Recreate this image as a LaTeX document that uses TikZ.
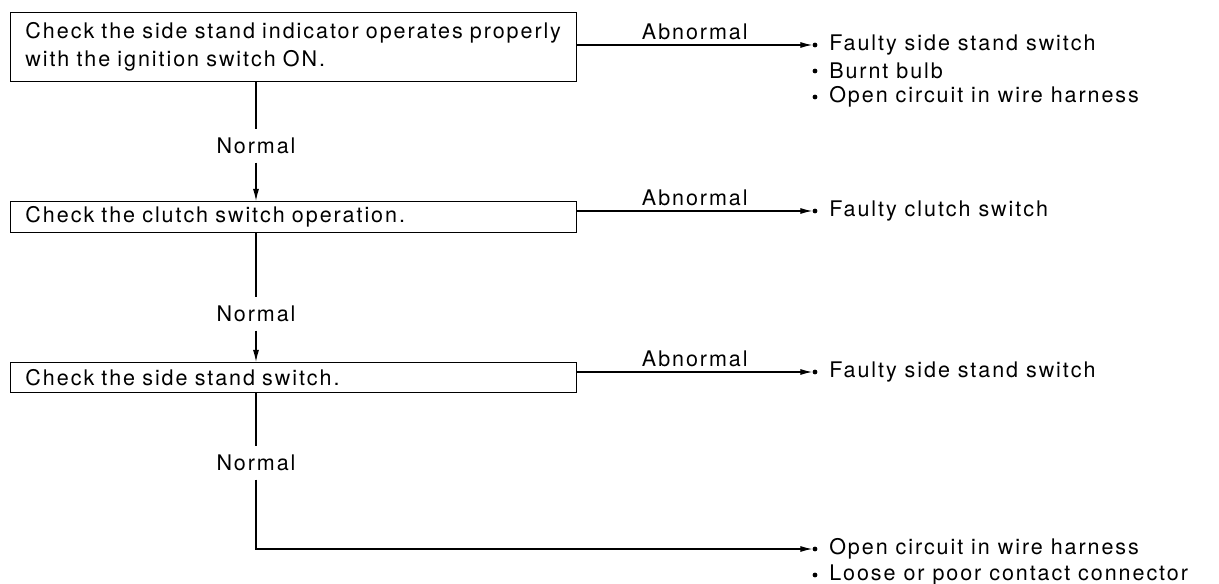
\documentclass[tikz,border=0pt]{standalone}
\usepackage{fontspec}
\newfontfamily\manualfont{TeX Gyre Heros}[LetterSpace=9]
\usepackage{tikz}
\usetikzlibrary{arrows.meta,positioning,calc}

\begin{document}
\begin{tikzpicture}[
    x=0.025cm, y=-0.025cm,
    stepbox/.style={draw, line width=0.7pt, anchor=north west, align=left,
                    text width=13.4cm, inner xsep=0.375cm, inner ysep=0pt,
                    font=\manualfont\fontsize{15.3}{19.5}\selectfont},
    lbl/.style={font=\manualfont\fontsize{15.3}{17}\selectfont, inner sep=2pt},
    cause/.style={anchor=west, inner sep=0pt,
                  font=\manualfont\fontsize{15.3}{17}\selectfont},
    bul/.style={circle, fill, inner sep=1.2pt},
    arr/.style={-{Latex[length=3mm,width=1.5mm]}, line width=0.8pt},
    lin/.style={line width=0.8pt}
]
    \useasboundingbox (0,0) rectangle (1219,584);

    % check steps
    \node[stepbox, minimum height=1.725cm] (box1) at (10,12)
        {Check the side stand indicator operates properly\\with the ignition switch ON.};
    \node[stepbox, minimum height=0.775cm] (box2) at (10,201) {Check the clutch switch operation.};
    \node[stepbox, minimum height=0.75cm]  (box3) at (10,362) {Check the side stand switch.};

    % Normal labels
    \node[lbl, inner ysep=6pt] (n1) at (256,146) {Normal};
    \node[lbl, inner ysep=6pt] (n2) at (256,314) {Normal};
    \node[lbl, inner ysep=6pt] (n3) at (256,463) {Normal};

    % bullets and causes
    \node[bul] (b1a) at (815,45) {};
    \node[bul] (b1b) at (815,71) {};
    \node[bul] (b1c) at (815,97) {};
    \node[bul] (b2a) at (815,211) {};
    \node[bul] (b3a) at (815,372) {};
    \node[bul] (b4a) at (815,549) {};
    \node[bul] (b4b) at (815,575) {};

    \node[cause] (c1a) at (829,45)  {Faulty side stand switch};
    \node[cause] (c1b) at (829,71)  {Burnt bulb};
    \node[cause] (c1c) at (829,97)  {Open circuit in wire harness};
    \node[cause] (c2a) at (829,211) {Faulty clutch switch};
    \node[cause] (c3a) at (829,372) {Faulty side stand switch};
    \node[cause] (c4a) at (829,549) {Open circuit in wire harness};
    \node[cause] (c4b) at (829,575) {Loose or poor contact connector};

    % Abnormal branches
    \draw[arr] (box1.east |- b1a) -- node[lbl, above=1pt] {Abnormal} (b1a);
    \draw[arr] (box2.east |- b2a) -- node[lbl, above=1pt] {Abnormal} (b2a);
    \draw[arr] (box3.east |- b3a) -- node[lbl, above=1pt] {Abnormal} (b3a);

    % Normal branches
    \draw[lin] (box1.south -| n1) -- (n1.north);
    \draw[arr] (n1.south) -- (box2.north -| n1);
    \draw[lin] (box2.south -| n2) -- (n2.north);
    \draw[arr] (n2.south) -- (box3.north -| n2);
    \draw[lin] (box3.south -| n3) -- (n3.north);
    \draw[arr] (n3.south) |- (b4a);
\end{tikzpicture}
\end{document}
